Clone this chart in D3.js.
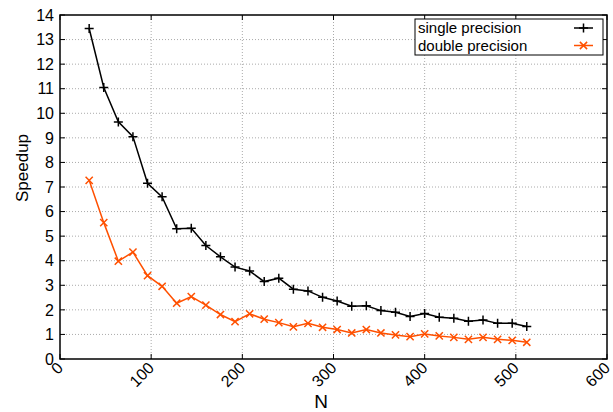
<!DOCTYPE html>
<html>
<head>
<meta charset="utf-8">
<script src="https://cdn.jsdelivr.net/npm/d3@7"></script>
<style>
  body { margin: 0; background: #fff; }
  text { font-family: "Liberation Sans", Arial, Helvetica, sans-serif; }
</style>
</head>
<body>
<div id="chart"></div>
<script>
// problem sizes (N)
const sizes = [32, 48, 64, 80, 96, 112, 128, 144, 160, 176, 192, 208, 224, 240, 256, 272,
    288, 304, 320, 336, 352, 368, 384, 400, 416, 432, 448, 464, 480, 496, 512];

const singlePrec = [13.45, 11.05, 9.65, 9.05, 7.15, 6.6, 5.3, 5.32, 4.62, 4.16, 3.74, 3.58,
    3.15, 3.29, 2.84, 2.77, 2.51, 2.36, 2.15, 2.17, 1.97, 1.9, 1.73, 1.85, 1.7, 1.66,
    1.54, 1.59, 1.45, 1.45, 1.32];

const doublePrec = [7.27, 5.55, 3.98, 4.35, 3.39, 2.96, 2.27, 2.54, 2.19, 1.81, 1.52, 1.84,
    1.62, 1.48, 1.31, 1.45, 1.29, 1.2, 1.06, 1.2, 1.06, 0.98, 0.91, 1.02, 0.94, 0.88,
    0.8, 0.88, 0.8, 0.76, 0.68];

const xTicks = [0, 100, 200, 300, 400, 500, 600];
const yTicks = d3.range(0, 15);

const seriesNames = ["single precision", "double precision"];

const width = 613, height = 412;
const margin = { top: 15, right: 6, bottom: 53, left: 60 };

const svg = d3.select("#chart").append("svg")
    .attr("width", width)
    .attr("height", height);

const x = d3.scaleLinear().domain([0, 600]).range([margin.left, width - margin.right]);
const y = d3.scaleLinear().domain([0, 14]).range([height - margin.bottom, margin.top]);

const x0 = x.range()[0], x1 = x.range()[1];
const y0 = y.range()[0], y1 = y.range()[1];

// grid (dotted)
svg.append("g")
    .selectAll("line")
    .data(xTicks.filter(d => d > 0 && d < 600))
    .join("line")
    .attr("x1", d => x(d)).attr("x2", d => x(d))
    .attr("y1", y0).attr("y2", y1)
    .attr("stroke", "#aaa").attr("stroke-width", 1).attr("stroke-dasharray", "1,2");

svg.append("g")
    .selectAll("line")
    .data(yTicks.filter(d => d > 0 && d < 14))
    .join("line")
    .attr("x1", x0).attr("x2", x1)
    .attr("y1", d => y(d)).attr("y2", d => y(d))
    .attr("stroke", "#aaa").attr("stroke-width", 1).attr("stroke-dasharray", "1,2");

// inward ticks on all four sides
const tickLen = 5;
const ticks = svg.append("g").attr("stroke", "#000").attr("stroke-width", 1);
ticks.selectAll(".yl").data(yTicks).join("line")
    .attr("x1", x0).attr("x2", x0 + tickLen).attr("y1", d => y(d)).attr("y2", d => y(d));
ticks.selectAll(".yr").data(yTicks).join("line")
    .attr("x1", x1).attr("x2", x1 - tickLen).attr("y1", d => y(d)).attr("y2", d => y(d));
ticks.selectAll(".xb").data(xTicks).join("line")
    .attr("x1", d => x(d)).attr("x2", d => x(d)).attr("y1", y0).attr("y2", y0 - tickLen);
ticks.selectAll(".xt").data(xTicks).join("line")
    .attr("x1", d => x(d)).attr("x2", d => x(d)).attr("y1", y1).attr("y2", y1 + tickLen);

// tick labels
svg.append("g")
    .selectAll("text")
    .data(yTicks)
    .join("text")
    .attr("x", x0 - 6)
    .attr("y", d => y(d))
    .attr("dy", "0.36em")
    .attr("text-anchor", "end")
    .attr("font-size", 16)
    .text(d => d);

svg.append("g")
    .selectAll("text")
    .data(xTicks)
    .join("text")
    .attr("transform", d => `translate(${x(d) + 4},${y0 + 10}) rotate(-45)`)
    .attr("text-anchor", "end")
    .attr("font-size", 16)
    .text(d => d);

// axis titles
svg.append("text")
    .attr("transform", `translate(28,168) rotate(-90)`)
    .attr("text-anchor", "middle")
    .attr("font-size", 17)
    .text("Speedup");

svg.append("text")
    .attr("x", 321)
    .attr("y", 408)
    .attr("text-anchor", "middle")
    .attr("font-size", 19)
    .text("N");

// series
const series = [
    { name: seriesNames[0], values: singlePrec, color: "#000000", marker: "plus" },
    { name: seriesNames[1], values: doublePrec, color: "#ff5000", marker: "cross" }
];

const line = d3.line().x(d => x(d[0])).y(d => y(d[1]));
const ms = 4.5;

function marker(g, type, cx, cy, color) {
    const p = type === "plus"
        ? `M${cx - ms},${cy}H${cx + ms}M${cx},${cy - ms}V${cy + ms}`
        : `M${cx - ms * 0.8},${cy - ms * 0.8}L${cx + ms * 0.8},${cy + ms * 0.8}M${cx - ms * 0.8},${cy + ms * 0.8}L${cx + ms * 0.8},${cy - ms * 0.8}`;
    g.append("path").attr("d", p).attr("stroke", color).attr("stroke-width", 1.5).attr("fill", "none");
}

series.forEach(s => {
    const pts = sizes.map((n, i) => [n, s.values[i]]);
    svg.append("path")
        .datum(pts)
        .attr("d", line)
        .attr("fill", "none")
        .attr("stroke", s.color)
        .attr("stroke-width", 1.5);
    const g = svg.append("g");
    pts.forEach(p => marker(g, s.marker, x(p[0]), y(p[1]), s.color));
});

// frame
svg.append("rect")
    .attr("x", x0).attr("y", y1)
    .attr("width", x1 - x0).attr("height", y0 - y1)
    .attr("fill", "none").attr("stroke", "#000").attr("stroke-width", 1.5);

// legend
const lg = svg.append("g");
lg.append("rect")
    .attr("x", 415).attr("y", 19).attr("width", 188).attr("height", 36)
    .attr("fill", "#fff").attr("stroke", "#000").attr("stroke-width", 1);
series.forEach((s, i) => {
    const ly = 28 + i * 17.5;
    lg.append("text")
        .attr("x", 418).attr("y", ly).attr("dy", "0.35em")
        .attr("font-size", 15)
        .text(s.name);
    lg.append("line")
        .attr("x1", 574).attr("x2", 593).attr("y1", ly).attr("y2", ly)
        .attr("stroke", s.color).attr("stroke-width", 1.5);
    marker(lg, s.marker, 583.5, ly, s.color);
});
</script>
</body>
</html>
